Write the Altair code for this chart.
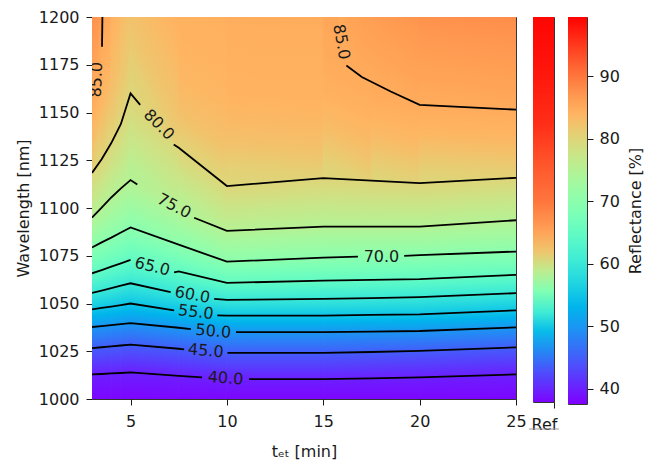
import math
import numpy as np
import altair as alt
import pandas as pd

# ---------------- values ----------------
# time grid (min) on which every contour line was read
T = [3, 3.5, 4, 4.5, 5, 7.5, 10, 15, 17.5, 20, 25]

# wavelength (nm) of each contour level at the times in T
C40 = [1012.9, 1013.1, 1013.4, 1013.6, 1013.9, 1012.1, 1010.4, 1010.4, 1010.8, 1011.3, 1012.9]
C45 = [1026.6, 1027.1, 1027.5, 1028.0, 1028.5, 1026.3, 1024.1, 1024.1, 1024.6, 1025.2, 1027.0]
C50 = [1037.7, 1038.2, 1038.7, 1039.2, 1039.7, 1037.3, 1035.0, 1035.0, 1035.3, 1035.6, 1037.5]
C55 = [1046.9, 1047.7, 1048.4, 1049.2, 1050.0, 1046.8, 1043.7, 1043.7, 1044.0, 1044.3, 1046.4]
C60 = [1055.6, 1056.8, 1058.1, 1059.3, 1060.6, 1056.2, 1051.9, 1052.4, 1052.8, 1053.3, 1055.4]
C65 = [1065.8, 1067.5, 1069.3, 1071.0, 1072.8, 1066.8, 1060.8, 1062.0, 1062.4, 1062.8, 1065.0]
C70 = [1079.3, 1082.0, 1084.5, 1087.2, 1089.8, 1080.8, 1071.9, 1074.0, 1074.7, 1075.3, 1077.2]
C75 = [1095.0, 1100.2, 1105.5, 1110.3, 1114.6, 1100.0, 1088.0, 1090.3, 1090.3, 1090.3, 1093.6]
C80 = [1118.4, 1125.5, 1134.0, 1144.0, 1160.0, 1131.5, 1111.5, 1115.6, 1114.3, 1113.0, 1115.8]
LEVELS = [40, 45, 50, 55, 60, 65, 70, 75, 80]
CONTOURS = [C40, C45, C50, C55, C60, C65, C70, C75, C80]

# reflectance (%) at the bottom edge (1000 nm), at the times in T
R_BOTTOM = [38.0, 38.0, 38.0, 38.0, 38.0, 38.0, 38.0, 38.0, 38.0, 38.0, 38.0]
# reflectance (%) above the 80 % line: a quarter of the way up, half way up, and at 1200 nm
R_Q = [83.5, 82.5, 81.8, 81.2, 80.7, 82.5, 82.8, 83.0, 83.3, 83.5, 83.8]
R_MID = [85.5, 84.5, 83.3, 82.2, 81.3, 83.5, 84.0, 84.3, 84.8, 85.2, 85.5]
R_TOP = [87.5, 86.0, 84.5, 83.3, 82.0, 84.3, 84.5, 85.0, 86.5, 87.3, 88.0]

# 85 % contour: top-right and top-left corners, with the reflectance reached at 1200 nm
T85 = [15.8, 16.2, 17.0, 18.5, 20.0, 25.0]
C85 = [1200.0, 1174.6, 1168.6, 1161.0, 1154.0, 1151.5]
R85_TOP = [85.0, 85.6, 86.1, 86.7, 87.3, 88.0]
T85_LEFT = [3.0, 3.25, 3.52, 3.54]
C85_LEFT = [1160.0, 1168.0, 1184.4, 1200.0]
R85_TOP_LEFT = [87.5, 87.3, 86.5, 86.0]

# gaps left in each line (40 ... 80) for its label: start and end points
GAP_T0 = [8.71, 7.78, 8.13, 7.26, 7.08, 5.0, 16.8, 5.35, 5.5]
GAP_C0 = [1011.3, 1026.0, 1036.6, 1046.4, 1055.9, 1072.8, 1074.5, 1112.3, 1154.0]
GAP_T1 = [11.15, 10.03, 10.47, 9.5, 9.34, 7.26, 19.2, 8.3, 7.24]
GAP_C1 = [1010.4, 1024.1, 1035.0, 1043.75, 1052.4, 1066.3, 1074.9, 1094.9, 1133.3]

# contour labels
LABEL_TEXT = ["40.0", "45.0", "50.0", "55.0", "60.0", "65.0", "70.0", "75.0", "80.0", "85.0", "85.0"]
LABEL_T = [9.93, 8.9, 9.29, 8.39, 8.21, 6.13, 18.02, 7.26, 6.47, 15.94, 3.23]
LABEL_C = [1010.8, 1025.2, 1035.4, 1045.5, 1054.5, 1069.3, 1074.5, 1101.0, 1143.6, 1187.0, 1167.2]
LABEL_ANGLE = [4, 5, 5, 7, 10, 14, 0, 28, 45, 80, 272]

# reference spectrum (Ref column)
REF_WL = [1000, 1016, 1027, 1037, 1047, 1058, 1068, 1078, 1089, 1104, 1125, 1145, 1176, 1200]
REF_R = [38, 44, 49, 54, 61, 69, 76, 82, 86, 90, 93, 96, 98, 99]

# axes
WL_MIN, WL_MAX = 1000, 1200
T_MIN, T_MAX = 3, 25
CBAR_MIN, CBAR_MAX = 37.6, 99.5
X_TICKS = [5, 10, 15, 20, 25]
Y_TICKS = [1000, 1025, 1050, 1075, 1100, 1125, 1150, 1175, 1200]
CBAR_TICKS = [40, 50, 60, 70, 80, 90]

FONT = "DejaVu Sans"
INK = "#1a1a1a"


# ---------------- colour map (matplotlib "rainbow") ----------------
def rainbow(x):
    x = min(max(x, 0.0), 1.0)
    r = min(1.0, abs(2 * x - 0.5))
    g = max(0.0, min(1.0, math.sin(math.pi * x)))
    b = max(0.0, min(1.0, math.cos(math.pi * x / 2)))
    return "#%02x%02x%02x" % (round(r * 255), round(g * 255), round(b * 255))


def cmap(v):
    return rainbow((v - CBAR_MIN) / (CBAR_MAX - CBAR_MIN))


def profile_value(profile, f):
    for (f0, v0), (f1, v1) in zip(profile[:-1], profile[1:]):
        if f <= f1:
            return v0 + (v1 - v0) * (f - f0) / (f1 - f0)
    return profile[-1][1]


def shading(t_pair, lo_pair, hi_pair, prof0, prof1):
    """linear gradient (direction and stops) that best shades one band piece"""
    bmin, bmax = min(lo_pair), max(hi_pair)
    hgt = bmax - bmin
    us, ys, vs = [], [], []
    for a in range(11):
        s = a / 10
        lo = lo_pair[0] + s * (lo_pair[1] - lo_pair[0])
        hi = hi_pair[0] + s * (hi_pair[1] - hi_pair[0])
        for b in range(21):
            f = b / 20
            lam = lo + f * (hi - lo)
            us.append(s)
            ys.append((bmax - lam) / hgt)
            vs.append((1 - s) * profile_value(prof0, f) + s * profile_value(prof1, f))
    us, ys, vs = np.array(us), np.array(ys), np.array(vs)
    A = np.column_stack([np.ones_like(us), us, ys])
    coef = np.linalg.lstsq(A, vs, rcond=None)[0]
    beta, gamma = float(coef[1]), float(coef[2])
    if beta * beta + gamma * gamma < 1e-9:
        beta, gamma = 0.0, -1.0
    q = beta * us + gamma * ys
    qmin, qmax = float(q.min()), float(q.max())
    norm2 = beta * beta + gamma * gamma
    p = (q - qmin) / (qmax - qmin) if qmax > qmin else np.zeros_like(q)
    stops = []
    K = 16
    for k in range(K):
        m = (p >= k / K) & ((p < (k + 1) / K) if k < K - 1 else (p <= 1.0))
        if m.any():
            stops.append({"offset": float(p[m].mean()), "color": cmap(float(vs[m].mean()))})
    return {"gradient": "linear",
            "x1": qmin * beta / norm2, "y1": qmin * gamma / norm2,
            "x2": qmax * beta / norm2, "y2": qmax * gamma / norm2,
            "stops": stops}


# ---------------- main panel ----------------
W, H = 424, 382
X = alt.X("t:Q", scale=alt.Scale(domain=[T_MIN, T_MAX], nice=False, zero=False),
          axis=alt.Axis(values=X_TICKS, title="tₑₜ [min]", labelPadding=8, titlePadding=14))
Y = alt.Y("wl:Q", scale=alt.Scale(domain=[WL_MIN, WL_MAX], nice=False, zero=False),
          axis=alt.Axis(values=Y_TICKS, format="d", title="Wavelength [nm]",
                        labelPadding=7, titlePadding=7))


def band(t_pair, lo_pair, hi_pair, prof0, prof1):
    g = shading(t_pair, lo_pair, hi_pair, prof0, prof1)
    df = pd.DataFrame({"t": list(t_pair), "wl": list(lo_pair), "wl2": list(hi_pair)})
    return (alt.Chart(df).mark_area(fill=g, stroke=g, strokeWidth=1, clip=True)
            .encode(x=X, y=Y, y2="wl2:Q"))


def top_profile(j):
    return [(0, 80), (0.25, R_Q[j]), (0.5, R_MID[j]), (1, R_TOP[j])]


n = len(T)
layers = []
for i in range(n - 1):
    tp = (T[i], T[i + 1])
    # below the 40 % line
    layers.append(band(tp, (WL_MIN, WL_MIN), (C40[i], C40[i + 1]),
                       [(0, R_BOTTOM[i]), (1, 40)], [(0, R_BOTTOM[i + 1]), (1, 40)]))
    # between consecutive contour lines
    for k in range(len(LEVELS) - 1):
        lo, hi = CONTOURS[k], CONTOURS[k + 1]
        prof = [(0, LEVELS[k]), (1, LEVELS[k + 1])]
        layers.append(band(tp, (lo[i], lo[i + 1]), (hi[i], hi[i + 1]), prof, prof))
    # above the 80 % line
    layers.append(band(tp, (C80[i], C80[i + 1]), (WL_MAX, WL_MAX), top_profile(i), top_profile(i + 1)))

# regions above 85 %
for i in range(len(T85) - 1):
    layers.append(band((T85[i], T85[i + 1]), (C85[i], C85[i + 1]), (WL_MAX, WL_MAX),
                       [(0, 85), (1, R85_TOP[i])], [(0, 85), (1, R85_TOP[i + 1])]))
for i in range(len(T85_LEFT) - 1):
    layers.append(band((T85_LEFT[i], T85_LEFT[i + 1]), (C85_LEFT[i], C85_LEFT[i + 1]),
                       (WL_MAX, WL_MAX), [(0, 85), (1, R85_TOP_LEFT[i])],
                       [(0, 85), (1, R85_TOP_LEFT[i + 1])]))

# contour lines, broken where their labels sit
rows = []
for k, (lvl, c) in enumerate(zip(LEVELS, CONTOURS)):
    for t, w in zip(T, c):
        if t < GAP_T0[k]:
            rows.append({"piece": f"{lvl}a", "t": t, "wl": w})
    rows.append({"piece": f"{lvl}a", "t": GAP_T0[k], "wl": GAP_C0[k]})
    rows.append({"piece": f"{lvl}b", "t": GAP_T1[k], "wl": GAP_C1[k]})
    for t, w in zip(T, c):
        if t > GAP_T1[k]:
            rows.append({"piece": f"{lvl}b", "t": t, "wl": w})
for t, w in zip(T85[1:], C85[1:]):
    rows.append({"piece": "85r", "t": t, "wl": w})
for t, w in zip(T85_LEFT[2:], C85_LEFT[2:]):
    rows.append({"piece": "85l", "t": t, "wl": w})
lines_df = pd.DataFrame(rows)
layers.append(alt.Chart(lines_df).mark_line(color="black", strokeWidth=1.8, clip=True)
              .encode(x=X, y=Y, detail="piece:N"))

labels_df = pd.DataFrame({"t": LABEL_T, "wl": LABEL_C, "label": LABEL_TEXT, "angle": LABEL_ANGLE})
layers.append(alt.Chart(labels_df).mark_text(font=FONT, fontSize=16, color=INK, clip=True,
                                              align="center", baseline="middle")
              .encode(x=X, y=Y, text="label:N", angle=alt.Angle("angle:Q", scale=None)))

main = alt.layer(*layers).properties(width=W, height=H)

# ---------------- Ref column ----------------
H_REF = 385
ref_df = pd.DataFrame({"x0": [0], "x1": [1], "w0": [WL_MIN], "w1": [WL_MAX]})
ref_stops = [{"offset": (w - WL_MIN) / (WL_MAX - WL_MIN), "color": cmap(r)} for w, r in zip(REF_WL, REF_R)]
ref_grad = {"gradient": "linear", "x1": 0, "y1": 1, "x2": 0, "y2": 0, "stops": ref_stops}
ref_rect = alt.Chart(ref_df).mark_rect(fill=ref_grad).encode(
    x=alt.X("x0:Q", scale=alt.Scale(domain=[0, 1], nice=False),
            axis=alt.Axis(values=[1], labelExpr="'Ref'", title=None, labelOffset=-10,
                          labelPadding=8, labelFlush=False)),
    x2="x1:Q",
    y=alt.Y("w0:Q", scale=alt.Scale(domain=[WL_MIN, WL_MAX], nice=False, zero=False), axis=None),
    y2="w1:Q",
)
ref_line = alt.Chart(ref_df).mark_rule(color="#9a9a9a", strokeWidth=1).encode(
    x=alt.value(-4), x2=alt.value(26), y=alt.value(H_REF + 27))
ref = alt.layer(ref_rect, ref_line).properties(width=21, height=H_REF)

# ---------------- colour bar ----------------
H_CB = 387
cb_df = pd.DataFrame({"x0": [0], "x1": [1], "v0": [CBAR_MIN], "v1": [CBAR_MAX]})
cb_stops = [{"offset": i / 32, "color": rainbow(i / 32)} for i in range(33)]
cb_grad = {"gradient": "linear", "x1": 0, "y1": 1, "x2": 0, "y2": 0, "stops": cb_stops}
cbar = alt.Chart(cb_df).mark_rect(fill=cb_grad).encode(
    x=alt.X("x0:Q", scale=alt.Scale(domain=[0, 1], nice=False), axis=None),
    x2="x1:Q",
    y=alt.Y("v0:Q", scale=alt.Scale(domain=[CBAR_MIN, CBAR_MAX], nice=False, zero=False),
            axis=alt.Axis(orient="right", values=CBAR_TICKS, title="Reflectance [%]",
                          titleAngle=270, titleBaseline="top", labelPadding=6, titlePadding=8)),
    y2="v1:Q",
).properties(width=19, height=H_CB)

right = alt.hconcat(ref, cbar, spacing=14, bounds="flush")
chart = (
    alt.hconcat(main, right, spacing=17, bounds="flush")
    .properties(padding={"left": 6, "top": 0, "right": 2, "bottom": 0})
    .configure_view(stroke="#333333", strokeWidth=1)
    .configure_axis(labelFont=FONT, titleFont=FONT, labelFontSize=16, titleFontSize=16,
                    titleFontWeight="normal", labelColor=INK, titleColor=INK, labelFlush=False,
                    tickColor=INK, tickSize=6, domain=False, grid=False)
)

chart.save("out.html", embed_options={"renderer": "svg", "actions": False})
